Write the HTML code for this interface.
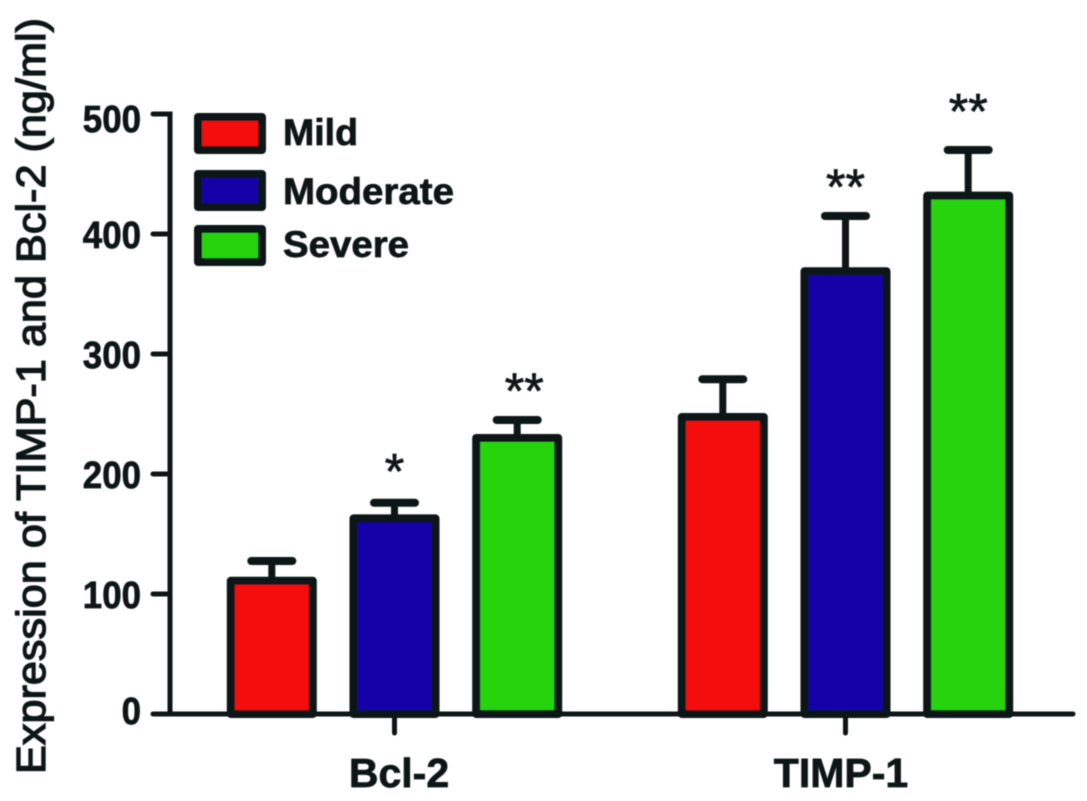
<!DOCTYPE html>
<html lang="en">
<head>
<meta charset="utf-8">
<title>Expression of TIMP-1 and Bcl-2</title>
<style>
html,body{margin:0;padding:0;background:#fff;width:1087px;height:801px;overflow:hidden}
svg{display:block}
text{font-family:"Liberation Sans",sans-serif;fill:#0e1315}
.b{font-weight:bold;stroke:#0e1315;stroke-width:0.7px}
</style>
</head>
<body>
<svg id="chart" xmlns="http://www.w3.org/2000/svg" width="1087" height="801" viewBox="0 0 1087 801">
  <defs><filter id="soft" x="-2%" y="-2%" width="104%" height="104%"><feGaussianBlur stdDeviation="0.6"/></filter></defs>
  <g id="root" filter="url(#soft)">
    <text transform="translate(45,774) rotate(-90)" font-size="41" stroke="#0e1315" stroke-width="1.3" textLength="756" lengthAdjust="spacingAndGlyphs">Expression of TIMP-1 and Bcl-2 (ng/ml)</text>
    <g id="plot"></g>
    <g>
      <g>
        <rect x="198" y="117" width="64" height="33" fill="#f51010" stroke="#0b1214" stroke-width="8" stroke-linejoin="round"/>
        <text class="b" x="283" y="145" font-size="37" textLength="75" lengthAdjust="spacingAndGlyphs">Mild</text>
      </g>
      <g>
        <rect x="198" y="174" width="64" height="33" fill="#1400a8" stroke="#0b1214" stroke-width="8" stroke-linejoin="round"/>
        <text class="b" x="283" y="204" font-size="37" textLength="171" lengthAdjust="spacingAndGlyphs">Moderate</text>
      </g>
      <g>
        <rect x="198" y="229" width="64" height="33" fill="#27d407" stroke="#0b1214" stroke-width="8" stroke-linejoin="round"/>
        <text class="b" x="283" y="257" font-size="37" textLength="126" lengthAdjust="spacingAndGlyphs">Severe</text>
      </g>
    </g>
  </g>
</svg>
<script>
const categories = ['Bcl-2', 'TIMP-1'];
const seriesNames = ['Mild', 'Moderate', 'Severe'];
const seriesColors = ['#f51010', '#1400a8', '#27d407'];
const mildValues = [111, 247.5];
const moderateValues = [163, 369];
const severeValues = [230, 432];
const mildErrors = [16.5, 31.5];
const moderateErrors = [13, 46];
const severeErrors = [15, 38];
const mildMarks = ['', ''];
const moderateMarks = ['*', '**'];
const severeMarks = ['**', '**'];
const moderateMarkLevels = [188, 425];
const severeMarkLevels = [255, 488];
const tickValues = [0, 100, 200, 300, 400, 500];

const INK = '#0b1214';
const plot = document.getElementById('plot');
const yScale = v => 714 - v * 1.2;
const xGroup = i => 394.5 + i * 451;
const xBar = (i, s) => xGroup(i) + (s - 1) * 122.7;
const slug = s => s.toLowerCase().replace(/[^a-z0-9]+/g, '-');

function make(tag, attrs, text) {
  const el = document.createElementNS('http://www.w3.org/2000/svg', tag);
  for (const k in attrs) el.setAttribute(k, attrs[k]);
  if (text !== undefined) el.textContent = text;
  plot.appendChild(el);
  return el;
}

function drawBars() {
  const values = [mildValues, moderateValues, severeValues];
  const errors = [mildErrors, moderateErrors, severeErrors];
  const marks = [mildMarks, moderateMarks, severeMarks];
  const levels = [null, moderateMarkLevels, severeMarkLevels];
  categories.forEach((cat, i) => {
    seriesNames.forEach((name, s) => {
      const cx = xBar(i, s);
      const v = values[s][i];
      const top = v + errors[s][i];
      const key = slug(cat) + '-' + slug(name);

      const stem = make('line', {x1: cx, x2: cx, y1: yScale(top), y2: yScale(v), stroke: INK, 'stroke-width': 7});
      
      

      const cap = make('line', {x1: cx - 20.5, x2: cx + 20.5, y1: yScale(top), y2: yScale(top), stroke: INK, 'stroke-width': 8, 'stroke-linecap': 'round'});
      
      

      const bar = make('rect', {x: cx - 41, y: yScale(v), width: 82, height: yScale(0) - yScale(v), fill: seriesColors[s], stroke: INK, 'stroke-width': 8, 'stroke-linejoin': 'round'});
      
      

      if (marks[s][i]) {
        const nudge = (i === 0 && s === 2) ? 7 : 0;
        const star = make('text', {x: cx + nudge, y: yScale(levels[s][i]), 'font-size': 50, 'text-anchor': 'middle', fill: '#1c2224', stroke: '#1c2224', 'stroke-width': 0.8}, marks[s][i]);
        
        
      }
    });
  });
}

function drawAxes() {
  const yAxis = make('line', {x1: 170, x2: 170, y1: yScale(500) - 2.5, y2: yScale(0), stroke: INK, 'stroke-width': 5});
  
  

  const xAxis = make('line', {x1: 170, x2: 1073, y1: yScale(0), y2: yScale(0), stroke: INK, 'stroke-width': 5, 'stroke-linecap': 'round'});
  
  

  const top = tickValues[tickValues.length - 1];
  tickValues.forEach(v => {
    const y = yScale(v);
    const tick = make('line', {x1: 153, x2: 170, y1: y, y2: y, stroke: INK, 'stroke-width': 5, 'stroke-linecap': 'round'});
    
    

    const shift = v === top ? 4 : (v === 0 ? -4 : 0);
    const label = make('text', {x: 141, y: y + 14 + shift, 'text-anchor': 'end', 'font-size': 38, 'font-weight': 'bold', stroke: '#0e1315', 'stroke-width': 0.7, textLength: 19.4 * String(v).length, lengthAdjust: 'spacingAndGlyphs'}, String(v));
    
    
  });

  categories.forEach((cat, i) => {
    const cx = xGroup(i);
    const tick = make('line', {x1: cx, x2: cx, y1: yScale(0), y2: 733, stroke: INK, 'stroke-width': 5, 'stroke-linecap': 'round'});
    
    

    const label = make('text', {x: cx + (i === 0 ? 4.5 : -4.5), y: 787, 'text-anchor': 'middle', 'font-size': 41, 'font-weight': 'bold', stroke: '#0e1315', 'stroke-width': 0.7}, cat);
    
    
  });
}

drawBars();
drawAxes();
</script>
</body>
</html>
